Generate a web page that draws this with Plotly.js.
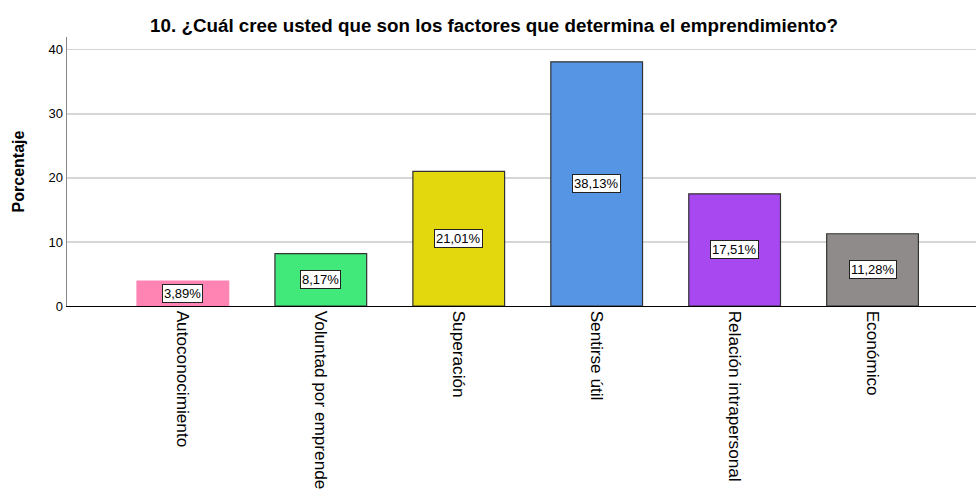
<!DOCTYPE html>
<html><head><meta charset="utf-8">
<script src="https://cdn.plot.ly/plotly-3.0.1.min.js"></script>
<style>html,body{margin:0;padding:0;background:#fff;overflow:hidden}</style>
</head><body>
<div id="chart" style="width:976px;height:490px"></div>
<script>
const categories = ["Autoconocimiento","Voluntad por emprender","Superación","Sentirse útil","Relación intrapersonal","Económico"];
const values = [3.89, 8.17, 21.01, 38.13, 17.51, 11.28];
const labels = ["3,89%","8,17%","21,01%","38,13%","17,51%","11,28%"];
const colors = ["#ff84b3","#40e97a","#e3d70d","#5595e4","#a748f1","#8f8b8a"];
const lineColors = ["#ff84b3","#333333","#333333","#333333","#333333","#333333"];
const yTicks = [0,10,20,30,40];

const trace = {
  type: "bar",
  x: categories.map((c,i)=>i),
  y: values,
  width: 0.665,
  marker: {color: colors, line: {color: lineColors, width: 1.2}},
  hoverinfo: "skip"
};

const annotations = values.map((v,i)=>({
  x: i, y: v/2, xref: "x", yref: "y",
  text: labels[i], showarrow: false,
  font: {family: "Liberation Sans, Arial, sans-serif", size: 13, color: "#000"},
  bgcolor: "#ffffff", bordercolor: "#222", borderwidth: 1, borderpad: 1
}));

const layout = {
  width: 976, height: 490,
  margin: {l: 67, r: 0, t: 37, b: 184},
  paper_bgcolor: "#fff", plot_bgcolor: "#fff",
  showlegend: false,
  title: {text: "<b>10. ¿Cuál cree usted que son los factores que determina el emprendimiento?</b>",
    font: {family: "Liberation Sans, Arial, sans-serif", size: 18.8, color: "#000"},
    x: 494/976, xanchor: "center", y: 1-25/490, yanchor: "middle"},
  xaxis: {
    range: [-0.84, 5.75], tickmode: "array",
    tickvals: categories.map((c,i)=>i), ticktext: categories,
    tickangle: 90, ticks: "", automargin: false,
    tickfont: {family: "Liberation Sans, Arial, sans-serif", size: 17.2, color: "#000"},
    showline: true, linecolor: "#000", linewidth: 1.2, showgrid: false, zeroline: false
  },
  yaxis: {
    range: [0, 42], tickmode: "array", tickvals: yTicks, ticktext: yTicks.map(String),
    ticks: "", automargin: false,
    tickfont: {family: "Liberation Sans, Arial, sans-serif", size: 13, color: "#000"},
    showline: true, linecolor: "#888", linewidth: 1.5,
    showgrid: true, gridcolor: "#d6d6d6", gridwidth: 1.3, zeroline: false,
    title: {text: "<b>Porcentaje</b>", standoff: 20,
      font: {family: "Liberation Sans, Arial, sans-serif", size: 16, color: "#000"}}
  },
  annotations: annotations,
  bargap: 0.3
};
Plotly.newPlot("chart", [trace], layout, {staticPlot: true, displayModeBar: false});
</script>
</body></html>
